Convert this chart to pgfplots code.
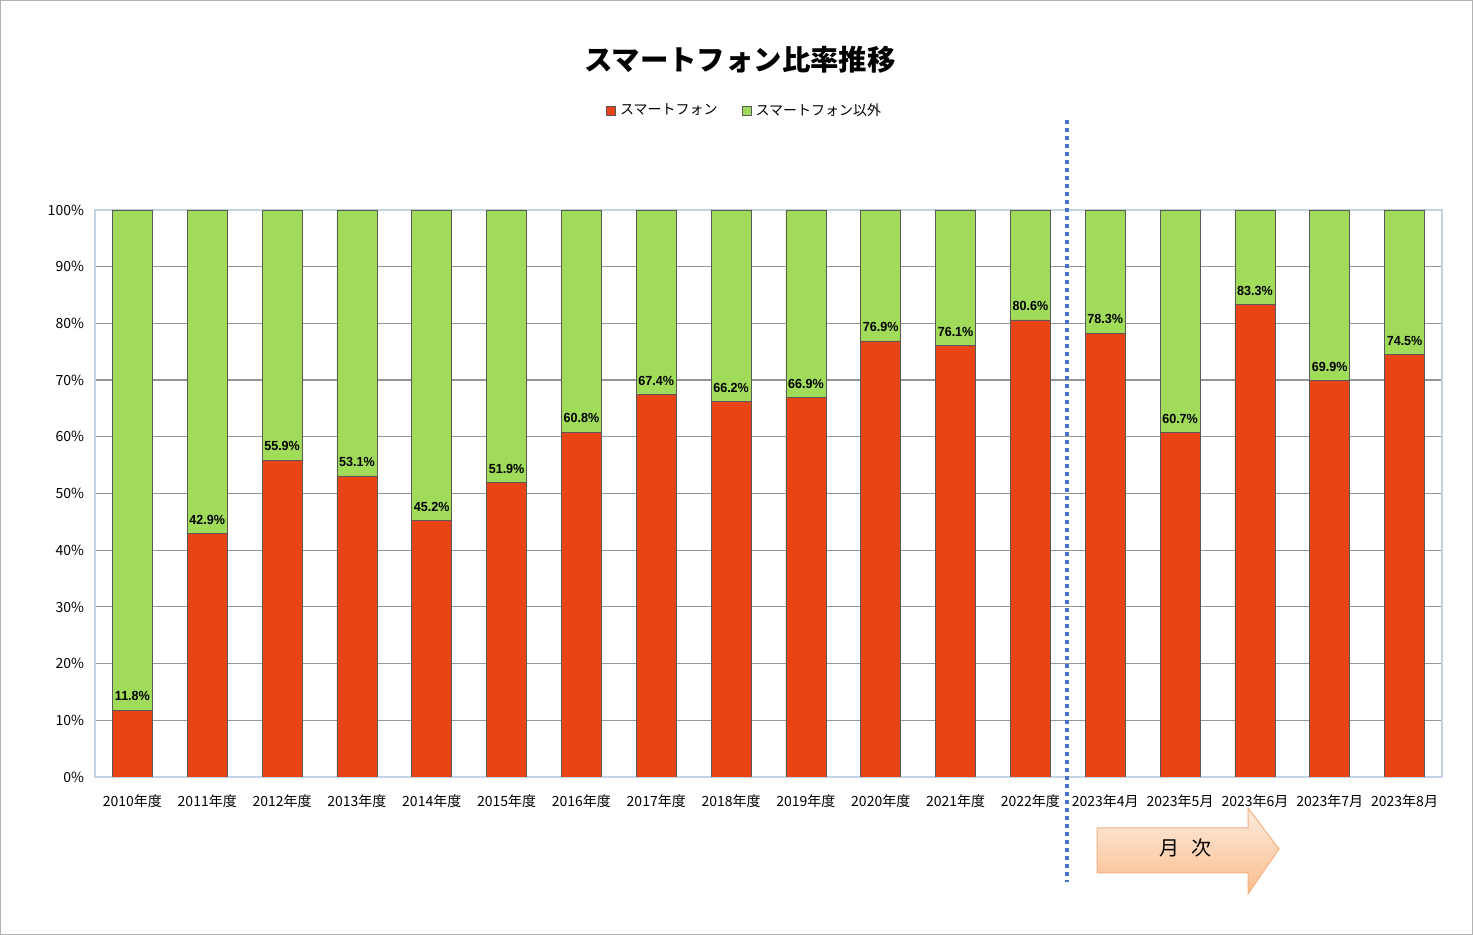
\documentclass[border=0pt]{standalone}
\usepackage{pgfplots}
\pgfplotsset{compat=1.18}
\usepackage{fontspec}
\setmainfont{Noto Sans CJK JP}
\newfontfamily\lblfont[FakeStretch=0.95]{Liberation Sans}
\definecolor{sred}{RGB}{232,68,22}
\definecolor{sgreen}{RGB}{160,220,90}
\definecolor{gridgray}{RGB}{150,150,150}
\definecolor{axblue}{RGB}{195,210,228}
\definecolor{dotblue}{RGB}{68,114,196}
\definecolor{arrtop}{RGB}{253,236,222}
\definecolor{arrbot}{RGB}{249,188,140}
\definecolor{arredge}{RGB}{244,177,131}
\pgfplotstableread{
x smart other
0 11.8 88.2
1 42.9 57.1
2 55.9 44.1
3 53.1 46.9
4 45.2 54.8
5 51.9 48.1
6 60.8 39.2
7 67.4 32.6
8 66.2 33.8
9 66.9 33.1
10 76.9 23.1
11 76.1 23.9
12 80.6 19.4
13 78.3 21.7
14 60.7 39.3
15 83.3 16.7
16 69.9 30.1
17 74.5 25.5
}\datatable
\begin{document}
\begin{tikzpicture}
\useasboundingbox (0pt,0pt) rectangle (736.5pt,467.5pt);
\fill[white] (0pt,0pt) rectangle (736.5pt,467.5pt);
\draw[gray!60, line width=0.6pt] (0.4pt,0.4pt) rectangle (736.1pt,467.1pt);
\node[font=\bfseries\fontsize{14.2}{16}\selectfont] at (370pt,437.5pt) {スマートフォン比率推移};
\begin{axis}[
  at={(47.5pt,79pt)}, anchor=south west,
  scale only axis, width=673.5pt, height=283.5pt,
  ybar stacked, bar width=20pt,
  xmin=-0.5, xmax=17.5, ymin=0, ymax=100,
  ytick={0,10,...,100},
  yticklabel={\pgfmathprintnumber{\tick}\%},
  xtick={0,...,17},
  xticklabels={2010年度,2011年度,2012年度,2013年度,2014年度,2015年度,2016年度,2017年度,2018年度,2019年度,2020年度,2021年度,2022年度,2023年4月,2023年5月,2023年6月,2023年7月,2023年8月},
  /pgf/number format/assume math mode=true,
  tick label style={font=\fontsize{7}{8}\selectfont},
  major tick length=0pt,
  xticklabel style={yshift=-5.5pt},
  yticklabel style={xshift=-2pt},
  ymajorgrids, grid style={gridgray, line width=0.6pt},
  axis line style={axblue, line width=0.8pt},
  legend style={at={(0.483,1.175)}, anchor=center, draw=none, fill=none,
    legend columns=2, font=\fontsize{7}{8}\selectfont,
    /tikz/every even column/.append style={column sep=10pt}},
  legend image code/.code={\fill[#1] (0pt,-2.3pt) rectangle (4.6pt,2.3pt);},
]
\addplot[fill=sred, draw=gray!70!black, line width=0.4pt]
  table[x=x, y=smart] {\datatable};
\addlegendentry{スマートフォン}
\addplot[fill=sgreen, draw=gray!70!black, line width=0.4pt,
  point meta=\thisrow{smart},
  visualization depends on={\thisrow{other} \as \oth},
  nodes near coords={\pgfmathprintnumber[fixed,fixed zerofill,precision=1]{\pgfplotspointmeta}\%},
  nodes near coords style={anchor=center, yshift={7pt-\oth*1.4175pt}, black,
    font=\lblfont\bfseries\fontsize{6.6}{7}\selectfont}]
  table[x=x, y=other] {\datatable};
\addlegendentry{スマートフォン以外}
\end{axis}
\draw[dotblue, line width=1.6pt, dash pattern=on 1.8pt off 2.2pt] (533.5pt,407.5pt) -- (533.5pt,26.5pt);
\shade[top color=arrtop, bottom color=arrbot, draw=arredge, line width=0.5pt]
  (548.5pt,53.5pt) -- (624pt,53.5pt) -- (624pt,63.5pt) -- (639.5pt,43pt) -- (624pt,20.5pt) -- (624pt,31pt) -- (548.5pt,31pt) -- cycle;
\node[font=\fontsize{10}{12}\selectfont] at (592.5pt,43.5pt) {月\hspace{0.6em}次};
\end{tikzpicture}
\end{document}
